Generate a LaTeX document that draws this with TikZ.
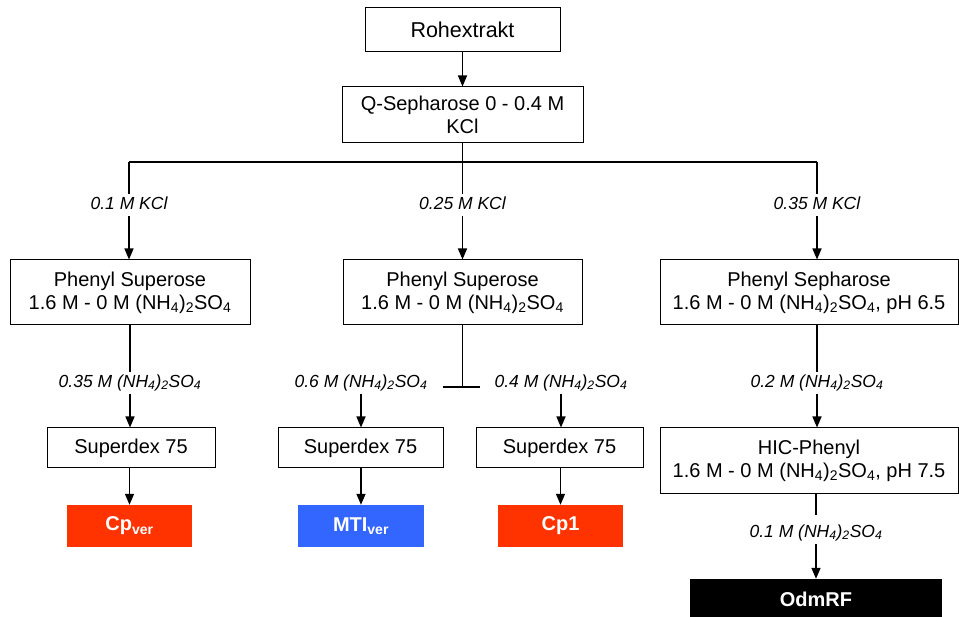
\documentclass[tikz,border=0pt]{standalone}
\usepackage{fontspec}
\setmainfont{Liberation Sans}
\usetikzlibrary{arrows.meta}
\definecolor{cpred}{HTML}{FF3300}
\definecolor{mtiblue}{HTML}{3366FF}
\tikzset{
  box/.style={draw=black, line width=1pt, fill=white, inner sep=0pt, align=center,
    font=\fontsize{20}{23}\selectfont},
  res/.style={inner sep=0pt, align=center, text=white,
    font=\fontsize{20}{23}\selectfont\bfseries},
  lab/.style={inner sep=3pt, text height=12.5pt, text depth=4pt,
    font=\fontsize{17.5}{20}\selectfont\itshape},
  conn/.style={line width=1.5pt, draw=black},
  arr/.style={conn, -{Triangle[length=11pt,width=9pt]}},
}
\begin{document}
\begin{tikzpicture}[x=1pt,y=-1pt]
\useasboundingbox (0,0) rectangle (959,617);
% boxes
\node[box, minimum width=195pt, minimum height=44pt, font=\fontsize{21.5}{24}\selectfont] (roh) at (462.5,30) {Rohextrakt};
\node[box, minimum width=241pt, minimum height=56pt] (q) at (462.5,115) {Q-Sepharose 0 - 0.4 M\\KCl};
\node[box, minimum width=240pt, minimum height=65pt] (p1) at (130,292.5) {Phenyl Superose\\1.6 M - 0 M (NH\textsubscript{4})\textsubscript{2}SO\textsubscript{4}};
\node[box, minimum width=239pt, minimum height=65pt] (p2) at (462.5,292.5) {Phenyl Superose\\1.6 M - 0 M (NH\textsubscript{4})\textsubscript{2}SO\textsubscript{4}};
\node[box, minimum width=298pt, minimum height=65pt] (p3) at (809,292.5) {Phenyl Sepharose\\1.6 M - 0 M (NH\textsubscript{4})\textsubscript{2}SO\textsubscript{4}, pH 6.5};
\node[box, minimum width=168pt, minimum height=40pt] (s1) at (131,448) {Superdex 75};
\node[box, minimum width=165pt, minimum height=40pt] (s2) at (360.5,448) {Superdex 75};
\node[box, minimum width=167pt, minimum height=40pt] (s3) at (559.5,448) {Superdex 75};
\node[box, minimum width=298pt, minimum height=66pt] (hic) at (809,461) {HIC-Phenyl\\1.6 M - 0 M (NH\textsubscript{4})\textsubscript{2}SO\textsubscript{4}, pH 7.5};
% results
\node[res, fill=cpred, minimum width=125pt, minimum height=42pt] (cpver) at (129.5,526) {Cp\textsubscript{ver}};
\node[res, fill=mtiblue, minimum width=126pt, minimum height=42pt] (mti) at (361,526) {MTI\textsubscript{ver}};
\node[res, fill=cpred, minimum width=125pt, minimum height=42pt] (cp1) at (560.5,526) {Cp1};
\node[res, fill=black, minimum width=252pt, minimum height=40pt] (odm) at (816,599) {OdmRF};
% labels
\node[lab] (l1) at (129,205) {0.1 M KCl};
\node[lab] (l2) at (462.5,205) {0.25 M KCl};
\node[lab] (l3) at (817,205) {0.35 M KCl};
\node[lab] (m1) at (130,383) {0.35 M (NH\textsubscript{4})\textsubscript{2}SO\textsubscript{4}};
\node[lab] (m2) at (361,383) {0.6 M (NH\textsubscript{4})\textsubscript{2}SO\textsubscript{4}};
\node[lab] (m3) at (561,383) {0.4 M (NH\textsubscript{4})\textsubscript{2}SO\textsubscript{4}};
\node[lab] (m4) at (817,383) {0.2 M (NH\textsubscript{4})\textsubscript{2}SO\textsubscript{4}};
\node[lab] (m5) at (816,533) {0.1 M (NH\textsubscript{4})\textsubscript{2}SO\textsubscript{4}};
\coordinate (split) at (462.5,162);
\coordinate (tee) at (462.5,387);
\coordinate (teeL) at (443,387);
\coordinate (teeR) at (480,387);
% connectors
\draw[arr] (roh.south) -- (q.north);
\draw[conn] (q.south) -- (split);
\draw[conn] (split -| l1) -- (split -| l3);
\draw[conn] (split -| l1) -- (l1.north);
\draw[conn] (split) -- (l2.north);
\draw[conn] (split -| l3) -- (l3.north);
\draw[arr] (l1.south) -- (l1.south |- p1.north);
\draw[arr] (l2.south) -- (l2.south |- p2.north);
\draw[arr] (l3.south) -- (l3.south |- p3.north);
\draw[conn] (p1.south -| m1) -- (m1.north);
\draw[arr] (m1.south) -- (m1.south |- s1.north);
\draw[conn] (p2.south) -- (tee);
\draw[conn] (teeL) -- (teeR);
\draw[arr] (m2.south) -- (m2.south |- s2.north);
\draw[arr] (m3.south) -- (m3.south |- s3.north);
\draw[conn] (p3.south -| m4) -- (m4.north);
\draw[arr] (m4.south) -- (m4.south |- hic.north);
\draw[conn] (hic.south -| m5) -- ([yshift=7pt]m5.north);
\draw[arr] (m5.south) -- (m5.south |- odm.north);
\draw[arr] (s1.south -| cpver) -- (cpver.north);
\draw[arr] (s2.south -| mti) -- (mti.north);
\draw[arr] (s3.south -| cp1) -- (cp1.north);
\end{tikzpicture}
\end{document}
